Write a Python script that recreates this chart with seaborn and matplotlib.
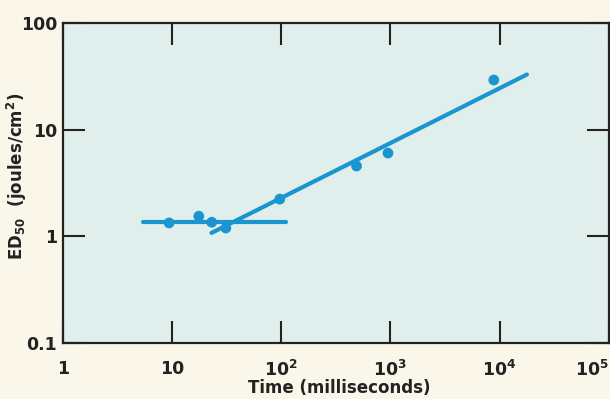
"""
plot.py
ED50 vs exposure time
"""

import matplotlib
matplotlib.use("Agg")
import matplotlib.pyplot as plt
import seaborn as sns
import pandas as pd

# measured points
time_ms = [9.4, 17.6, 23.1, 31.1, 97, 490, 950, 8850]
ed50 = [1.34, 1.55, 1.36, 1.2, 2.24, 4.57, 6.05, 29.3]

# fitted lines (end points)
flat_x = [5.4, 110]
flat_y = [1.36, 1.36]
slope_x = [23, 17800]
slope_y = [1.08, 33]

x_ticks = [1, 10, 100, 1000, 10000, 100000]
x_labels = ["1", "10", "$10^2$", "$10^3$", "$10^4$", "$10^5$"]
y_ticks = [0.1, 1, 10, 100]
y_labels = ["0.1", "1", "10", "100"]

BLUE = "#1b95d0"
INK = "#222222"

sns.set_theme(style="ticks")
plt.rcParams["font.family"] = ["DejaVu Sans"]
plt.rcParams["font.weight"] = "bold"
plt.rcParams["axes.labelweight"] = "bold"
plt.rcParams["mathtext.fontset"] = "custom"
plt.rcParams["mathtext.rm"] = "DejaVu Sans:bold"
plt.rcParams["mathtext.default"] = "rm"

fig, ax = plt.subplots(figsize=(6.1, 3.99), dpi=100)
fig.patch.set_facecolor("#fbf6ea")
ax.set_facecolor("#e1efec")

pts = pd.DataFrame({"time": time_ms, "ed50": ed50})
sns.scatterplot(data=pts, x="time", y="ed50", ax=ax, color=BLUE,
                s=60, edgecolor="none", zorder=3)
sns.lineplot(x=flat_x, y=flat_y, ax=ax, color=BLUE, lw=3,
             solid_capstyle="round", zorder=2)
sns.lineplot(x=slope_x, y=slope_y, ax=ax, color=BLUE, lw=3,
             solid_capstyle="round", zorder=2)

ax.set_xscale("log")
ax.set_yscale("log")
ax.set_xlim(1, 1e5)
ax.set_ylim(0.1, 100)

ax.set_xticks(x_ticks)
ax.set_xticklabels(x_labels)
ax.set_yticks(y_ticks)
ax.set_yticklabels(y_labels)
ax.minorticks_off()
ax.tick_params(axis="both", which="major", direction="in", length=16,
               width=1.5, color=INK, labelsize=12.5, labelcolor=INK,
               top=True, right=True)
ax.tick_params(axis="x", pad=12)
ax.tick_params(axis="y", pad=4)
ax.get_xticklabels()[-1].set_horizontalalignment("right")
ax.get_xticklabels()[-1].set_x(1e5)

for sp in ax.spines.values():
    sp.set_visible(True)
    sp.set_color(INK)
    sp.set_linewidth(1.6)

ax.set_xlabel("Time (milliseconds)", fontsize=12, color=INK)
ax.set_ylabel("ED$_{50}$  (joules/cm$^2$)", fontsize=12, color=INK)
ax.xaxis.set_label_coords(0.507, -0.113)
ax.yaxis.set_label_coords(-0.062, 0.52)

fig.subplots_adjust(left=0.103, right=0.998, top=0.942, bottom=0.14)
fig.savefig("out.png", dpi=100, facecolor=fig.get_facecolor())
